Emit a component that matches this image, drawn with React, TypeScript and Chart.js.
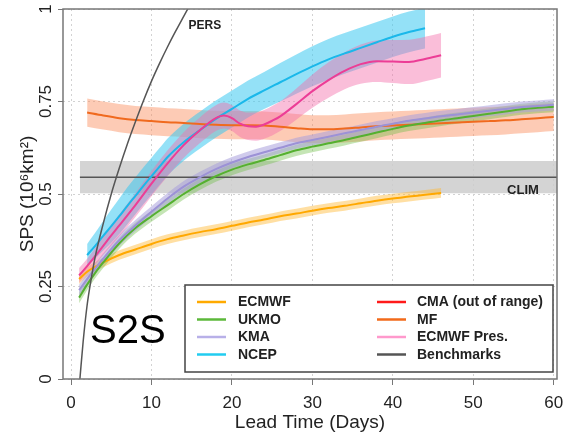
import React, { useEffect, useRef } from "react";
import { Chart, registerables } from "chart.js";

Chart.register(...registerables);

const FONT = "'Liberation Sans', Arial, Helvetica, sans-serif";

const X_MIN = -1;
const X_MAX = 60.4;
const X_TICKS = [0, 10, 20, 30, 40, 50, 60];
const Y_TICKS = [0, 0.25, 0.5, 0.75, 1];
const Y_TICK_LABELS = ["0", "0.25", "0.5", "0.75", "1"];

// ECMWF
const ECMWF_DAYS = [1, 2, 4, 6, 8, 10, 12, 14, 16, 18, 20, 22, 24, 26, 28, 30, 32, 34, 36, 38, 40, 42, 44, 46];
const ECMWF_SPS = [0.27, 0.29, 0.315, 0.335, 0.35, 0.365, 0.378, 0.388, 0.397, 0.405, 0.414, 0.423, 0.431, 0.44, 0.447, 0.455, 0.462, 0.468, 0.475, 0.482, 0.488, 0.493, 0.498, 0.503];
const ECMWF_SPREAD = 0.013;

// UKMO
const UKMO_DAYS = [1, 2, 3, 4, 6, 8, 10, 12, 14, 16, 18, 20, 22, 24, 26, 28, 30, 32, 34, 36, 38, 40, 42, 44, 46, 48, 50, 52, 54, 56, 58, 60];
const UKMO_SPS = [0.22, 0.255, 0.287, 0.315, 0.367, 0.408, 0.44, 0.47, 0.5, 0.526, 0.548, 0.566, 0.58, 0.592, 0.605, 0.618, 0.628, 0.637, 0.646, 0.656, 0.666, 0.676, 0.685, 0.692, 0.699, 0.705, 0.711, 0.717, 0.723, 0.729, 0.733, 0.736];
const UKMO_SPREAD = 0.015;

// KMA
const KMA_DAYS = [1, 2, 3, 4, 6, 8, 10, 12, 14, 16, 18, 20, 22, 24, 26, 28, 30, 32, 34, 36, 38, 40, 42, 44, 46, 48, 50, 52, 54, 56, 58, 60];
const KMA_SPS = [0.24, 0.27, 0.298, 0.325, 0.375, 0.415, 0.452, 0.488, 0.52, 0.545, 0.567, 0.585, 0.6, 0.613, 0.625, 0.637, 0.646, 0.655, 0.664, 0.673, 0.682, 0.69, 0.698, 0.704, 0.71, 0.715, 0.72, 0.725, 0.73, 0.735, 0.738, 0.741];
const KMA_SPREAD = 0.015;

// NCEP
const NCEP_DAYS = [2, 3, 4, 5, 6, 7, 8, 9, 10, 11, 12, 14, 16, 18, 20, 22, 24, 26, 28, 30, 32, 34, 36, 38, 40, 42, 44];
const NCEP_SPS = [0.335, 0.36, 0.387, 0.413, 0.44, 0.468, 0.495, 0.522, 0.548, 0.574, 0.6, 0.64, 0.672, 0.703, 0.73, 0.757, 0.78, 0.802, 0.824, 0.845, 0.864, 0.88, 0.895, 0.91, 0.925, 0.938, 0.948];
const NCEP_SPREAD = [0.03, 0.035, 0.04, 0.045, 0.048, 0.05, 0.05, 0.05, 0.05, 0.05, 0.05, 0.05, 0.05, 0.05, 0.05, 0.05, 0.05, 0.052, 0.053, 0.054, 0.055, 0.055, 0.055, 0.055, 0.055, 0.055, 0.055];

// ECMWF Pres.
const PRES_DAYS = [1, 2, 3, 4, 5, 6, 8, 10, 12, 14, 16, 17, 18, 19, 20, 21, 22, 23, 24, 25, 26, 28, 30, 32, 34, 36, 38, 40, 42, 44, 46];
const PRES_SPS = [0.28, 0.305, 0.332, 0.36, 0.388, 0.415, 0.47, 0.528, 0.583, 0.632, 0.672, 0.69, 0.705, 0.712, 0.705, 0.69, 0.683, 0.682, 0.688, 0.698, 0.71, 0.743, 0.778, 0.808, 0.833, 0.851, 0.859, 0.858, 0.857, 0.865, 0.875];
const PRES_SPREAD = [0.02, 0.02, 0.022, 0.025, 0.028, 0.03, 0.032, 0.034, 0.035, 0.035, 0.035, 0.035, 0.035, 0.035, 0.035, 0.036, 0.037, 0.038, 0.039, 0.04, 0.04, 0.042, 0.045, 0.048, 0.05, 0.053, 0.056, 0.058, 0.06, 0.06, 0.06];

// MF
const MF_DAYS = [2, 4, 6, 8, 10, 12, 14, 16, 18, 20, 22, 24, 26, 28, 30, 32, 34, 36, 38, 40, 42, 44, 46, 48, 50, 52, 54, 56, 58, 60];
const MF_SPS = [0.72, 0.712, 0.705, 0.7, 0.697, 0.694, 0.692, 0.689, 0.687, 0.686, 0.686, 0.685, 0.682, 0.678, 0.675, 0.675, 0.677, 0.68, 0.683, 0.685, 0.687, 0.689, 0.691, 0.693, 0.695, 0.697, 0.699, 0.702, 0.705, 0.708];
const MF_SPREAD = 0.038;

// Benchmarks
const PERS_DAYS = [1.1, 1.5, 2, 2.5, 3, 4, 5, 6, 7, 8, 9, 10, 11, 12, 13, 14, 15];
const PERS_SPS = [0, 0.1, 0.2, 0.27, 0.33, 0.42, 0.5, 0.57, 0.635, 0.695, 0.752, 0.805, 0.853, 0.898, 0.94, 0.98, 1.02];
const CLIM_DAYS = [1.1, X_MAX];
const CLIM_SPS = [0.545, 0.545];
const CLIM_LOW = [0.502, 0.502];
const CLIM_HIGH = [0.589, 0.589];

// Legend
const LEGEND_LEFT_LABELS = ["ECMWF", "UKMO", "KMA", "NCEP"];
const LEGEND_LEFT_COLORS = ["#ffaa00", "#5cb83a", "#b8b0e8", "#22ccf0"];
const LEGEND_RIGHT_LABELS = ["CMA (out of range)", "MF", "ECMWF Pres.", "Benchmarks"];
const LEGEND_RIGHT_COLORS = ["#ff1a1a", "#f26a1a", "#ff99cc", "#555555"];

const pts = (days: number[], vals: number[]) => days.map((d, i) => ({ x: d, y: vals[i] }));
const spreadAt = (s: number | number[], i: number) => (Array.isArray(s) ? s[i] : s);

function band(days: number[], vals: number[], spread: number | number[], color: string, order: number) {
  const upper = days.map((d, i) => ({ x: d, y: vals[i] + spreadAt(spread, i) }));
  const lower = days.map((d, i) => ({ x: d, y: vals[i] - spreadAt(spread, i) }));
  return [
    { data: upper, borderWidth: 0, pointRadius: 0, fill: "+1", backgroundColor: color, order, cubicInterpolationMode: "monotone" },
    { data: lower, borderWidth: 0, pointRadius: 0, fill: false, order, cubicInterpolationMode: "monotone" },
  ];
}

function line(days: number[], vals: number[], color: string, order: number, width = 2) {
  return { data: pts(days, vals), borderColor: color, borderWidth: width, pointRadius: 0, fill: false, order, cubicInterpolationMode: "monotone" };
}

const decorPlugin = {
  id: "decor",
  afterDatasetsDraw(chart: any) {
    const { ctx, chartArea: ca, scales } = chart;
    const xs = scales.x;
    const ys = scales.y;
    ctx.save();
    // Plot box
    ctx.strokeStyle = "#777";
    ctx.lineWidth = 1.5;
    ctx.strokeRect(ca.left, ca.top, ca.right - ca.left, ca.bottom - ca.top);

    // Labels for benchmarks
    ctx.fillStyle = "#222";
    ctx.textBaseline = "middle";
    ctx.textAlign = "left";
    ctx.font = `bold 12px ${FONT}`;
    ctx.fillText("PERS", xs.getPixelForValue(14.6), ys.getPixelForValue(0.955));
    ctx.font = `bold 13px ${FONT}`;
    ctx.fillText("CLIM", xs.getPixelForValue(54.2), ys.getPixelForValue(0.511));

    // S2S
    ctx.fillStyle = "#000";
    ctx.textBaseline = "alphabetic";
    ctx.font = `40px ${FONT}`;
    ctx.fillText("S2S", ca.left + 27, ca.bottom - 36);

    // Legend
    const lx = 185, ly = 285, lr = ca.right - 4, lb = ca.bottom - 7;
    ctx.fillStyle = "#fff";
    ctx.fillRect(lx, ly, lr - lx, lb - ly);
    ctx.strokeStyle = "#444";
    ctx.lineWidth = 1.5;
    ctx.strokeRect(lx, ly, lr - lx, lb - ly);
    ctx.font = `bold 14px ${FONT}`;
    ctx.textBaseline = "middle";
    const rows = [302, 319.5, 337, 354.5];
    const drawCol = (labels: string[], colors: string[], x0: number, x1: number, tx: number) => {
      labels.forEach((lab, i) => {
        ctx.strokeStyle = colors[i];
        ctx.lineWidth = 2.5;
        ctx.beginPath();
        ctx.moveTo(x0, rows[i]);
        ctx.lineTo(x1, rows[i]);
        ctx.stroke();
        ctx.fillStyle = "#222";
        ctx.fillText(lab, tx, rows[i] + 0.5);
      });
    };
    drawCol(LEGEND_LEFT_LABELS, LEGEND_LEFT_COLORS, 197, 226, 238);
    drawCol(LEGEND_RIGHT_LABELS, LEGEND_RIGHT_COLORS, 377, 406, 417);
    ctx.restore();
  },
};

export default function App() {
  const ref = useRef<HTMLCanvasElement | null>(null);
  useEffect(() => {
    if (!ref.current) return;
    const datasets: any[] = [
      ...band(CLIM_DAYS, CLIM_HIGH.map((v, i) => (v + CLIM_LOW[i]) / 2), CLIM_HIGH.map((v, i) => (v - CLIM_LOW[i]) / 2), "rgba(205,205,205,0.85)", 100),
      ...band(MF_DAYS, MF_SPS, MF_SPREAD, "rgba(250,140,90,0.45)", 90),
      ...band(ECMWF_DAYS, ECMWF_SPS, ECMWF_SPREAD, "rgba(255,185,50,0.45)", 89),
      ...band(UKMO_DAYS, UKMO_SPS, UKMO_SPREAD, "rgba(110,190,70,0.4)", 88),
      ...band(KMA_DAYS, KMA_SPS, KMA_SPREAD, "rgba(170,160,220,0.55)", 87),
      ...band(NCEP_DAYS, NCEP_SPS, NCEP_SPREAD, "rgba(60,200,240,0.55)", 86),
      ...band(PRES_DAYS, PRES_SPS, PRES_SPREAD, "rgba(245,110,170,0.45)", 85),
      line(CLIM_DAYS, CLIM_SPS, "#555", 50, 1.5),
      line(MF_DAYS, MF_SPS, "#f06a1e", 40),
      line(ECMWF_DAYS, ECMWF_SPS, "#ffa800", 39),
      line(UKMO_DAYS, UKMO_SPS, "#55b030", 38),
      line(KMA_DAYS, KMA_SPS, "#9c92d6", 37),
      line(NCEP_DAYS, NCEP_SPS, "#1ab8ea", 36),
      line(PRES_DAYS, PRES_SPS, "#ec3d96", 35),
      line(PERS_DAYS, PERS_SPS, "#555", 30, 1.5),
    ];
    const chart = new Chart(ref.current, {
      type: "line",
      data: { datasets },
      plugins: [decorPlugin],
      options: {
        animation: false,
        responsive: false,
        devicePixelRatio: 1,
        layout: { padding: { top: 9, right: 7, left: 0, bottom: 0 } },
        plugins: { legend: { display: false }, tooltip: { enabled: false } },
        font: { family: FONT },
        scales: {
          x: {
            type: "linear",
            min: X_MIN,
            max: X_MAX,
            afterBuildTicks: (s: any) => { s.ticks = X_TICKS.map((v) => ({ value: v })); },
            afterFit: (s: any) => { s.height = 58; s.paddingLeft = 0; s.paddingRight = 0; },
            grid: { color: "#d2d2d2", lineWidth: 1, tickLength: 6, tickColor: "#777", tickWidth: 1 },
            border: { display: false, dash: [2, 3] },
            ticks: { padding: 8, color: "#222", font: { family: FONT, size: 17 }, maxRotation: 0, autoSkip: false, callback: (v: any) => String(v) },
            title: { display: true, text: "Lead Time (Days)", color: "#222", font: { family: FONT, size: 19 }, padding: { top: 0, bottom: 2.6 } },
          },
          y: {
            type: "linear",
            min: 0,
            max: 1,
            afterBuildTicks: (s: any) => { s.ticks = Y_TICKS.map((v) => ({ value: v })); },
            afterFit: (s: any) => { s.width = 63; s.paddingTop = 0; s.paddingBottom = 0; },
            grid: { color: "#d2d2d2", lineWidth: 1, tickLength: 5, tickColor: "#777", tickWidth: 1 },
            border: { display: false, dash: [2, 3] },
            ticks: { padding: -4.5, minRotation: 90, maxRotation: 90, crossAlign: "center", color: "#222", font: { family: FONT, size: 17 }, autoSkip: false, callback: (_v: any, i: number) => Y_TICK_LABELS[i] },
            title: { display: true, text: "SPS (10⁶km²)", color: "#222", font: { family: FONT, size: 19 }, padding: { top: 16.6, bottom: 0 } },
          },
        },
      } as any,
    });
    return () => chart.destroy();
  }, []);
  return (
    <div style={{ position: "absolute", left: 0, top: 0, width: 564, height: 437, background: "#fff" }}>
      <canvas ref={ref} width={564} height={437} style={{ width: 564, height: 437, display: "block" }} />
    </div>
  );
}
